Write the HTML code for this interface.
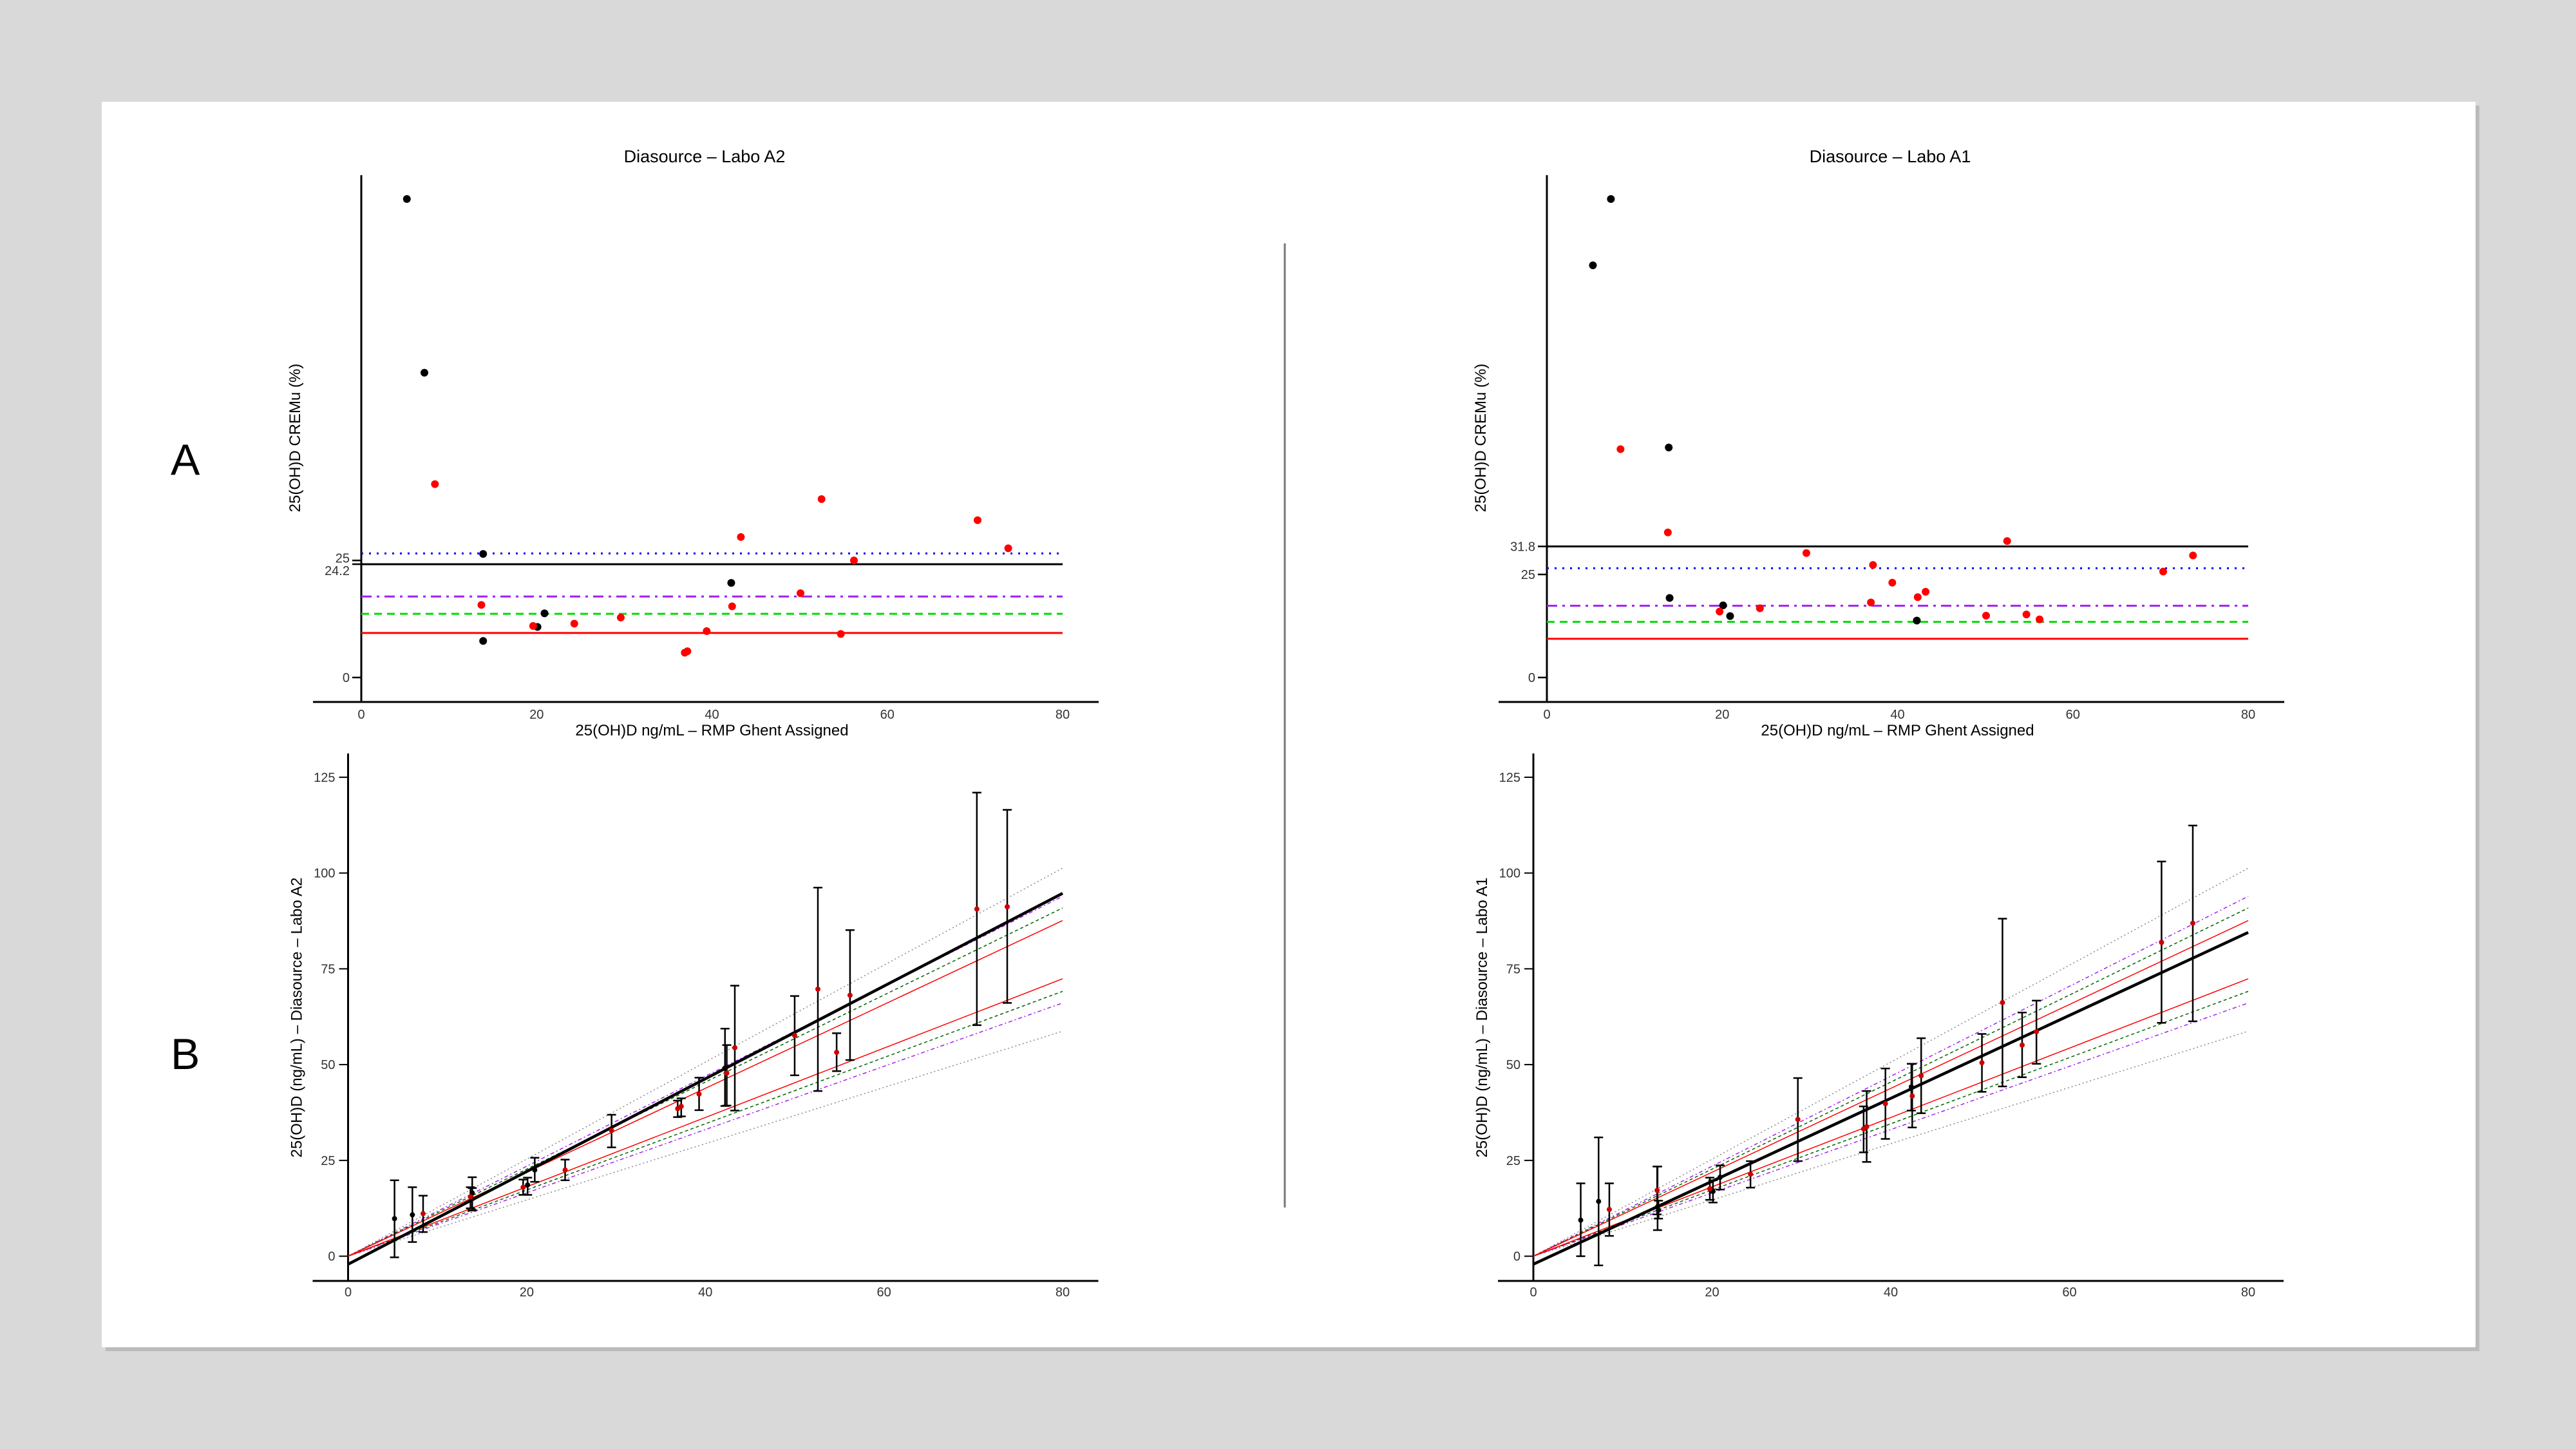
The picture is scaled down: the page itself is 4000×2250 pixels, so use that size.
<!DOCTYPE html>
<html><head><meta charset="utf-8"><style>
html,body{margin:0;padding:0;width:4000px;height:2250px;overflow:hidden;background:#d9d9d9}
svg{display:block}
text{font-family:"Liberation Sans Narrow","Liberation Sans",sans-serif;fill:#000}
.tick{font-size:20px;fill:#333}
.ttl{font-size:27px}
.ylab{font-family:"Liberation Sans",sans-serif;font-size:24px}
</style></head><body>
<svg id="s" width="4000" height="2250" xmlns="http://www.w3.org/2000/svg">
<rect x="164" y="164" width="3686" height="1934" fill="#bbb"/>
<rect x="158" y="158" width="3686" height="1934" fill="#fff"/>
<text x="265" y="737" style="font-family:'Liberation Sans',sans-serif;font-size:68px">A</text>
<text x="265" y="1660" style="font-family:'Liberation Sans',sans-serif;font-size:68px">B</text>
<line x1="1995" y1="378" x2="1995" y2="1875" stroke="#777" stroke-width="3"/>
</svg>
<script>
// ---------- data ----------
// Top-left (Labo A2) CREMu
const tlBlackX=[5.2,7.2,13.9,13.9,20.1,20.9,42.2];
const tlBlackY=[102.2,65.1,26.4,7.8,10.8,13.7,20.2];
const tlRedX=[8.4,13.7,19.6,24.3,29.6,36.9,37.2,39.4,42.3,43.3,50.1,52.5,54.7,56.2,70.3,73.8];
const tlRedY=[41.3,15.5,11.0,11.5,12.8,5.3,5.6,9.9,15.2,30.0,18.0,38.1,9.3,25.0,33.6,27.6];
const tlLimits=[24.2,26.5,17.3,13.6,9.5];
const tlTicks=["0","25","24.2"];
const tlTickVals=[0,25,24.2];
// Top-right (Labo A1) CREMu
const trBlackX=[5.25,7.3,13.9,14.0,20.1,20.9,42.2];
const trBlackY=[100.0,116.1,55.8,19.3,17.5,14.9,13.8];
const trRedX=[8.4,13.8,19.7,24.3,29.6,36.96,37.2,39.4,42.3,43.2,50.1,52.5,54.7,56.2,70.3,73.7];
const trRedY=[55.4,35.2,16.0,16.8,30.2,18.2,27.3,23.0,19.5,20.8,15.0,33.1,15.3,14.1,25.7,29.6];
const trLimits=[31.8,26.5,17.4,13.5,9.4];
const trTicks=["0","25","31.8"];
const trTickVals=[0,25,31.8];
// Bottom-left (Labo A2) values with intervals
const blX=[5.2,7.2,13.9,13.9,20.1,20.9,42.2,8.4,13.7,19.6,24.3,29.5,36.9,37.3,39.3,42.4,43.3,50.0,52.6,54.7,56.2,70.4,73.8];
const blY=[9.8,10.8,16.5,15.0,18.6,22.5,49.1,11.1,15.5,18.0,22.5,32.8,38.5,39.1,42.3,47.8,54.4,57.6,69.7,53.2,68.1,90.6,91.2];
const blHi=[19.8,18.0,20.6,17.8,20.5,25.7,59.4,15.8,18.0,20.0,25.2,36.9,40.6,41.2,46.6,55.1,70.6,67.9,96.2,58.2,85.1,121.0,116.5];
const blLo=[-0.3,3.7,11.9,12.0,16.0,19.4,39.2,6.3,12.5,16.0,19.8,28.4,36.3,36.5,38.1,39.3,38.0,47.2,43.1,48.3,51.2,60.3,66.1];
const blRed=[0,0,0,0,0,0,0,1,1,1,1,1,1,1,1,1,1,1,1,1,1,1,1];
const blFit=[-2.1,94.7];
// Bottom-right (Labo A1)
const brX=[5.3,7.3,13.9,14.0,20.1,20.9,42.3,8.5,13.85,19.75,24.3,29.6,36.96,37.3,39.4,42.4,43.4,50.2,52.5,54.7,56.3,70.3,73.8];
const brY=[9.4,14.3,12.9,12.0,16.9,20.6,44.2,12.2,17.2,17.6,21.4,35.7,33.2,33.8,39.8,41.8,47.1,50.5,66.2,55.1,58.6,81.9,86.9];
const brHi=[19.0,31.0,23.4,14.5,19.8,23.7,50.2,19.0,23.4,20.5,24.8,46.5,39.1,43.1,49.0,50.2,56.9,58.0,88.1,63.6,66.7,103.0,112.4];
const brLo=[0,-2.4,6.8,9.8,14.0,17.4,38.0,5.3,10.9,14.7,17.9,24.8,27.1,24.6,30.6,33.6,37.3,42.9,44.3,46.7,50.2,60.9,61.3];
const brRed=blRed;
const brFit=[-2.1,84.5];
// Acceptance bands (fraction)
const bandP=[0.266,0.174,0.136,0.095];
const xTicks=[0,20,40,60,80];
const yTicksB=[0,25,50,75,100,125];

const NS="http://www.w3.org/2000/svg";
const svg=document.getElementById('s');
function el(tag,attrs,parent){const e=document.createElementNS(NS,tag);for(const k in attrs)e.setAttribute(k,attrs[k]);(parent||svg).appendChild(e);return e;}
const limStyles=[
 {c:"#000",d:"",w:3},{c:"#0000ff",d:"3 9",w:3},{c:"#a020f0",d:"16 8 4 8",w:3},{c:"#00dd00",d:"12 8",w:3},{c:"#ff0000",d:"",w:3}];
const bandStyles=[{c:"#888",d:"2 4",w:1.5},{c:"#a020f0",d:"6 4 2 4",w:1.5},{c:"#006400",d:"5 4",w:1.5},{c:"#ff0000",d:"",w:1.5}];

function topChart(o){
  const g=el('g',{});
  
  
  const sx=v=>o.x0+(o.x80-o.x0)*v/80;
  const sy=v=>o.y0-v*o.pu;
  const ax=el('line',{x1:o.x0,y1:272,x2:o.x0,y2:1090,stroke:"#000","stroke-width":3},g);
  
  const xa=el('line',{x1:o.x0-75,y1:1090,x2:o.x0+1145,y2:1090,stroke:"#000","stroke-width":3},g);
  
  xTicks.forEach(v=>{const t=el('text',{x:sx(v),y:1116,"text-anchor":"middle",class:"tick"},g);t.textContent=v;
    });
  o.ticks.forEach((lab,i)=>{const v=o.tickVals[i];
    el('line',{x1:o.x0-14,y1:sy(v),x2:o.x0,y2:sy(v),stroke:"#000","stroke-width":2.5},g);
    const t=el('text',{x:o.x0-18,y:sy(v)+7+(lab==="24.2"?10:0)-(lab==="25"&&o.ticks.includes("24.2")?4:0),"text-anchor":"end",class:"tick"},g);t.textContent=lab;
    });
  o.limits.forEach((v,i)=>{const s=limStyles[i];
    const l=el('line',{x1:o.x0,y1:sy(v),x2:o.x80,y2:sy(v),stroke:s.c,"stroke-width":s.w,"stroke-dasharray":s.d},g);
    });
  o.bx.forEach((x,i)=>{const c=el('circle',{cx:sx(x),cy:sy(o.by[i]),r:6,fill:"#000"},g);
    });
  o.rx.forEach((x,i)=>{const c=el('circle',{cx:sx(x),cy:sy(o.ry[i]),r:6,fill:"#ff0000"},g);
    });
  const t=el('text',{x:o.tx,y:252,"text-anchor":"middle",class:"ttl"},g);t.textContent=o.title;
  
  const xl=el('text',{x:(o.x0+o.x80)/2,y:1142,"text-anchor":"middle",style:"font-size:24px"},g);xl.textContent="25(OH)D  ng/mL – RMP Ghent Assigned";
  
  const yl=el('text',{x:0,y:0,"text-anchor":"middle",class:"ylab",transform:`translate(${o.x0-95},680) rotate(-90)`},g);yl.textContent="25(OH)D  CREMu (%)";
  
}
function botChart(o){
  const g=el('g',{});
  
  
  const sx=v=>o.x0+(o.x80-o.x0)*v/80;
  const y0=1950.6,y125=1206.9;
  const sy=v=>y0+(y125-y0)*v/125;
  const ax=el('line',{x1:o.x0,y1:1170,x2:o.x0,y2:1989,stroke:"#000","stroke-width":3},g);
  
  const xa=el('line',{x1:o.x0-55,y1:1989,x2:o.x0+1165,y2:1989,stroke:"#000","stroke-width":3},g);
  
  xTicks.forEach(v=>{const t=el('text',{x:sx(v),y:2013,"text-anchor":"middle",class:"tick"},g);t.textContent=v;
    });
  yTicksB.forEach(v=>{el('line',{x1:o.x0-14,y1:sy(v),x2:o.x0,y2:sy(v),stroke:"#000","stroke-width":2},g);
    const t=el('text',{x:o.x0-20,y:sy(v)+7,"text-anchor":"end",class:"tick"},g);t.textContent=v;
    });
  bandP.forEach((p,i)=>{const s=bandStyles[i];
    [1+p,1-p].forEach(f=>{const l=el('line',{x1:sx(0),y1:sy(0),x2:sx(80),y2:sy(80*f),stroke:s.c,"stroke-width":s.w,"stroke-dasharray":s.d},g);
      });});
  const fl=el('line',{x1:sx(0),y1:sy(o.fit[0]),x2:sx(80),y2:sy(o.fit[1]),stroke:"#000","stroke-width":4.5},g);
  
  o.x.forEach((x,i)=>{const X=sx(x);
    const b=el('path',{d:`M${X},${sy(o.lo[i])}V${sy(o.hi[i])}M${X-7},${sy(o.lo[i])}H${X+7}M${X-7},${sy(o.hi[i])}H${X+7}`,stroke:"#000","stroke-width":2.5,fill:"none"},g);
    
    const c=el('circle',{cx:X,cy:sy(o.y[i]),r:4,fill:o.red[i]?"#cc0000":"#000"},g);
    });
  const yl=el('text',{x:0,y:0,"text-anchor":"middle",class:"ylab",transform:`translate(${o.x0-72},1580) rotate(-90)`},g);yl.textContent=o.ylab;
  
}
topChart({name:'chart-a-labo-a2',x0:561,x80:1650,y0:1052,pu:7.27,ticks:tlTicks,tickVals:tlTickVals,limits:tlLimits,bx:tlBlackX,by:tlBlackY,rx:tlRedX,ry:tlRedY,title:"Diasource – Labo A2",tx:1094});
topChart({name:'chart-a-labo-a1',x0:2402,x80:3491,y0:1052,pu:6.40,ticks:trTicks,tickVals:trTickVals,limits:trLimits,bx:trBlackX,by:trBlackY,rx:trRedX,ry:trRedY,title:"Diasource – Labo A1",tx:2935});
botChart({name:'chart-b-labo-a2',x0:540.5,x80:1650,x:blX,y:blY,hi:blHi,lo:blLo,red:blRed,fit:blFit,ylab:"25(OH)D (ng/mL) – Diasource – Labo A2"});
botChart({name:'chart-b-labo-a1',x0:2381,x80:3491,x:brX,y:brY,hi:brHi,lo:brLo,red:brRed,fit:brFit,ylab:"25(OH)D (ng/mL) – Diasource – Labo A1"});
</script>
</body></html>
